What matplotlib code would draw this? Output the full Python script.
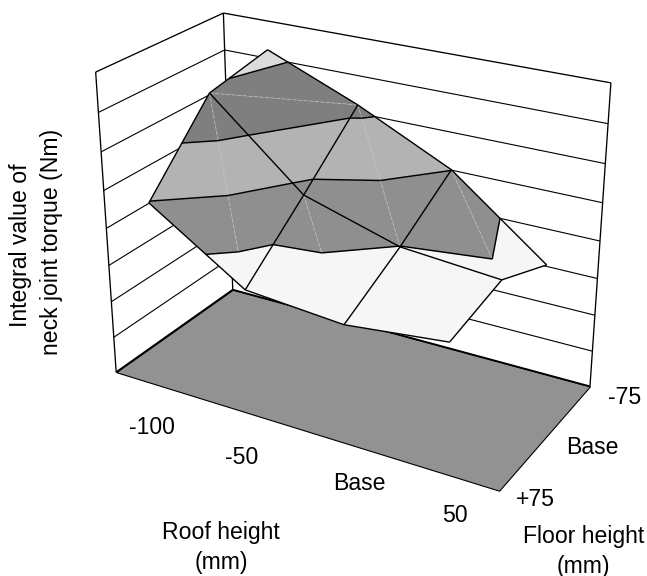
import numpy as np
import matplotlib
matplotlib.use("Agg")
import matplotlib.pyplot as plt
from mpl_toolkits.mplot3d import Axes3D  # noqa: F401
from mpl_toolkits.mplot3d.art3d import Poly3DCollection, Line3DCollection

plt.rcParams['font.family'] = ['Liberation Sans', 'DejaVu Sans']

# ---------- data ----------
roof_labels = ['-100', '-50', 'Base', '50']
floor_labels = ['+75', 'Base', '-75']
# torque, in units of one gridline step; rows = floor, cols = roof
torque_floor_p75 = [4.97, 3.34, 3.13, 3.41]
torque_floor_base = [6.89, 4.75, 3.99, 3.78]
torque_floor_m75 = [7.23, 6.22, 5.01, 3.04]
z_levels = [3, 4, 5, 6, 7, 8]
z_top = 8

# ---------- style / layout ----------
W, H = 647, 576
band_colors = ['#f6f6f6', '#8f8f8f', '#b3b3b3', '#7f7f7f', '#dcdcdc']
floor_color = '#929292'
FS = 16.6

fig = plt.figure(figsize=(W / 100, H / 100), dpi=100, facecolor='white')
ax = fig.add_axes([0, 0, 1, 1], projection='3d', computed_zorder=False)
ax.set_axis_off()
ax.apply_aspect = lambda *a, **k: None

# camera: fitted to the box corners as seen in the reference (pixel coords)
corners_3d = [(0, 0, 0), (1, 0, 0), (1, 1, 0), (0, 1, 0),
              (0, 0, z_top), (0, 1, z_top), (1, 1, z_top)]
corners_px = [(116, 372), (499, 491), (590, 386), (233, 290),
              (96, 72), (223, 13), (611, 83)]
A, b = [], []
for (X, Y, Z), (u, v) in zip(corners_3d, corners_px):
    A.append([X, Y, Z, 1, 0, 0, 0, 0, -u * X, -u * Y, -u * Z]); b.append(u)
    A.append([0, 0, 0, 0, X, Y, Z, 1, -v * X, -v * Y, -v * Z]); b.append(v)
sol = np.linalg.lstsq(np.array(A, float), np.array(b, float), rcond=None)[0]
P = np.append(sol, 1).reshape(3, 4)


def get_proj():
    x0, x1 = ax.viewLim.intervalx
    y0, y1 = ax.viewLim.intervaly
    r0 = x0 * P[2] + (x1 - x0) / W * P[0]
    r1 = y1 * P[2] - (y1 - y0) / H * P[1]
    r3 = P[2]
    r2 = P[2] + np.array([0, 0, 0, 1.0])
    return np.array([r0, r1, r2, r3])


ax.get_proj = get_proj
ax.set_xlim(0, 1); ax.set_ylim(0, 1); ax.set_zlim(0, z_top)

# ---------- box ----------
grid = []
for k in range(1, z_top):
    grid.append([(0, 0, k), (0, 1, k)])
    grid.append([(0, 1, k), (1, 1, k)])
ax.add_collection3d(Line3DCollection(grid, colors='black', linewidths=0.8, zorder=1))
edges = [[(0, 0, 0), (0, 0, z_top)], [(0, 0, z_top), (0, 1, z_top)],
         [(0, 1, 0), (0, 1, z_top)], [(0, 1, z_top), (1, 1, z_top)],
         [(1, 1, 0), (1, 1, z_top)]]
ax.add_collection3d(Line3DCollection(edges, colors='black', linewidths=0.95, zorder=1))

floor = Poly3DCollection([[(0, 0, 0), (1, 0, 0), (1, 1, 0), (0, 1, 0)]],
                         facecolors=floor_color, edgecolors='black', linewidths=0.8,
                         zorder=2)
ax.add_collection3d(floor)
ax.add_collection3d(Line3DCollection([[(0, 0, 0), (0, 1, 0)], [(0, 1, 0), (1, 1, 0)]],
                                     colors='black', linewidths=1.3, zorder=3))

# ---------- surface ----------
Zg = np.array([torque_floor_p75, torque_floor_base, torque_floor_m75])
nr, nc = Zg.shape
xs = [(i + 0.5) / nc for i in range(nc)]
ys = [j / (nr - 1) for j in range(nr)]
V = [[(xs[c], ys[r], Zg[r, c]) for c in range(nc)] for r in range(nr)]

tris, diags = [], []
for r in range(nr - 1):
    for c in range(nc - 1):
        a, b_, c_, d = V[r][c], V[r][c + 1], V[r + 1][c + 1], V[r + 1][c]
        if r == 1 and c == 0:      # diagonal from (c, r) to (c+1, r+1)
            tris += [(a, b_, c_), (a, c_, d)]
            diags.append((a, c_))
        else:                      # diagonal from (c, r+1) to (c+1, r)
            tris += [(a, b_, d), (b_, c_, d)]
            diags.append((d, b_))


def clip(poly, lev, keep_above):
    out = []
    n = len(poly)
    for i in range(n):
        p, q = np.array(poly[i]), np.array(poly[(i + 1) % n])
        pin = p[2] >= lev if keep_above else p[2] <= lev
        qin = q[2] >= lev if keep_above else q[2] <= lev
        if pin:
            out.append(tuple(p))
        if pin != qin:
            t = (lev - p[2]) / (q[2] - p[2])
            out.append(tuple(p + t * (q - p)))
    return out


polys, cols = [], []
for lo, hi, col in zip(z_levels[:-1], z_levels[1:], band_colors):
    for tri in tris:
        pl = clip(tri, lo, True)
        if len(pl) >= 3:
            pl = clip(pl, hi, False)
        if len(pl) >= 3:
            polys.append(pl)
            cols.append(col)
surf = Poly3DCollection(polys, facecolors=cols, edgecolors=cols, linewidths=0.3, zorder=4)
ax.add_collection3d(surf)

# faint diagonals: visible on the grey bands only (above the white band)
diag_segs = []
for p, q in diags:
    p, q = np.array(p), np.array(q)
    if p[2] < z_levels[1] and q[2] < z_levels[1]:
        continue
    if p[2] < z_levels[1]:
        p = p + (z_levels[1] - p[2]) / (q[2] - p[2]) * (q - p)
    elif q[2] < z_levels[1]:
        q = p + (z_levels[1] - p[2]) / (q[2] - p[2]) * (q - p)
    diag_segs.append([tuple(p), tuple(q)])
ax.add_collection3d(Line3DCollection(diag_segs, colors='#c6c6c6', linewidths=0.5,
                                     linestyles=(0, (6, 2)), zorder=5))

# contour lines between bands
segs = []
for lev in z_levels[1:-1]:
    for tri in tris:
        pts = []
        for i in range(3):
            p, q = np.array(tri[i]), np.array(tri[(i + 1) % 3])
            if (p[2] < lev) != (q[2] < lev):
                pts.append(tuple(p + (lev - p[2]) / (q[2] - p[2]) * (q - p)))
        if len(pts) == 2:
            segs.append(pts)
ax.add_collection3d(Line3DCollection(segs, colors='black', linewidths=1.05, zorder=6))

# mesh lines
mesh = []
for r in range(nr):
    mesh += [[V[r][c], V[r][c + 1]] for c in range(nc - 1)]
for c in range(nc):
    mesh += [[V[r][c], V[r + 1][c]] for r in range(nr - 1)]
ax.add_collection3d(Line3DCollection(mesh, colors='black', linewidths=1.0, zorder=7))

# ---------- text ----------
def txt(px, py, s, **kw):
    fig.text(px / W, 1 - py / H, s, ha='center', va='center', fontsize=FS, **kw)


roof_label_px = [(152, 428), (242, 457), (359, 484), (455, 515)]
floor_label_px = [(535, 500), (592, 447), (625, 397)]
for s, (px, py) in zip(roof_labels, roof_label_px):
    txt(px, py, s)
for s, (px, py) in zip(floor_labels, floor_label_px):
    txt(px, py, s)
txt(221, 533, 'Roof height')
txt(221, 562, '(mm)')
txt(584, 537, 'Floor height')
txt(583, 566, '(mm)')
txt(21, 245, 'Integral value of', rotation=90)
txt(52, 242, 'neck joint torque (Nm)', rotation=90)

fig.savefig('out.png', dpi=100, facecolor='white')
